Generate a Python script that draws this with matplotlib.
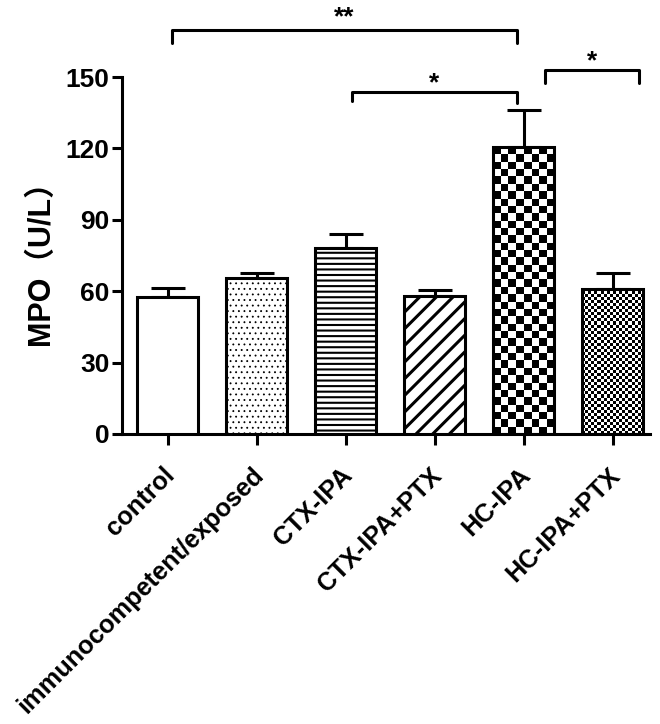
import numpy as np
import matplotlib
matplotlib.use('Agg')
import matplotlib.pyplot as plt
import matplotlib.transforms as mtrans

plt.rcParams['font.family'] = ['Liberation Sans', 'Noto Sans CJK SC', 'DejaVu Sans']
plt.rcParams['font.weight'] = 'bold'
plt.rcParams['hatch.linewidth'] = 1.5

# data
groups = ['control', 'immunocompetent/exposed', 'CTX-IPA', 'CTX-IPA+PTX', 'HC-IPA', 'HC-IPA+PTX']
means = [57.5, 65.5, 78, 58, 120.5, 61]
sems = [4, 2, 6, 2.5, 15.5, 6.5]
hatches = ['', '...', '---', '//', None, None]
hatch_lw = [0, 0.6, 1.5, 2.2, 0, 0]
checker_px = [0, 0, 0, 0, 7.3, 3.0]   # checkerboard cell size in px (0 = none)

# significance brackets: (left x, right x, line y, left leg, right leg, label, label y)
sig = [
    (0.05, 3.92, 169.7, 164.5, 164.5, '**', 175),
    (2.07, 3.92, 143.7, 140.0, 139.0, '*', 147.5),
    (4.24, 5.30, 153.0, 147.5, 147.5, '*', 156.5),
]

fig = plt.figure(figsize=(6.6, 7.24), dpi=100)
ax = fig.add_axes([0.185, 0.4006, 0.8, 0.493])
ax.set_xlim(-0.51, 5.42)
ax.set_ylim(0, 150)

x = np.arange(len(groups))
w = 0.69
lw = 2.2

ax.errorbar(x, means, yerr=[np.zeros(len(sems)), sems], fmt='none', ecolor='black',
            elinewidth=lw, capsize=12, capthick=lw, zorder=1)

bars = ax.bar(x, means, width=w, color='white', edgecolor='black', linewidth=lw, zorder=3)
for b, h, hl, cp in zip(bars, hatches, hatch_lw, checker_px):
    if cp > 0:
        b.set_facecolor('none')
    elif h:
        b.set_hatch(h)
        try:
            b.set_hatch_linewidth(hl)
        except AttributeError:
            pass

fig.canvas.draw()
for b, cp in zip(bars, checker_px):
    if cp <= 0:
        continue
    x0, y0 = b.get_x(), b.get_y()
    x1, y1 = x0 + b.get_width(), y0 + b.get_height()
    p0 = ax.transData.transform((x0, y0))
    p1 = ax.transData.transform((x1, y1))
    nc = max(1, int(round((p1[0] - p0[0]) / cp)))
    nr = max(1, int(round((p1[1] - p0[1]) / cp)))
    ii, jj = np.indices((nr, nc))
    img = ((ii + jj) % 2).astype(float)
    im = ax.imshow(img, cmap='gray', extent=[x0, x1, y0, y1], origin='lower',
                   interpolation='nearest', aspect='auto', zorder=2, vmin=0, vmax=1)
    im.set_clip_path(b)
ax.set_xlim(-0.51, 5.42)
ax.set_ylim(0, 150)

for xl, xr, yl, ll, lr, txt, ty in sig:
    ax.plot([xl, xl, xr, xr], [ll, yl, yl, lr], color='black', lw=lw,
            clip_on=False, solid_capstyle='round')
    ax.text((xl + xr) / 2, ty, txt, ha='center', va='center', fontsize=19,
            fontweight='bold', clip_on=False)

for s in ['top', 'right']:
    ax.spines[s].set_visible(False)
for s in ['left', 'bottom']:
    ax.spines[s].set_linewidth(lw)

ax.set_yticks([0, 30, 60, 90, 120, 150])
ax.tick_params(axis='y', direction='out', length=7, width=lw, labelsize=19, pad=2)
ax.tick_params(axis='x', direction='out', length=8, width=lw, labelsize=18.3, pad=13)
ax.set_xticks(x)
ax.set_xticklabels(groups, rotation=45, ha='right', va='top', rotation_mode='anchor')
off = mtrans.ScaledTranslation(-5 / 100, 0, fig.dpi_scale_trans)
for lab in ax.get_xticklabels():
    lab.set_transform(lab.get_transform() + off)
for lab in ax.get_xticklabels() + ax.get_yticklabels():
    lab.set_fontweight('bold')

ax.set_ylabel('MPO（U/L）', fontsize=22, fontweight='bold', labelpad=7)

fig.savefig('out.png', dpi=100)
